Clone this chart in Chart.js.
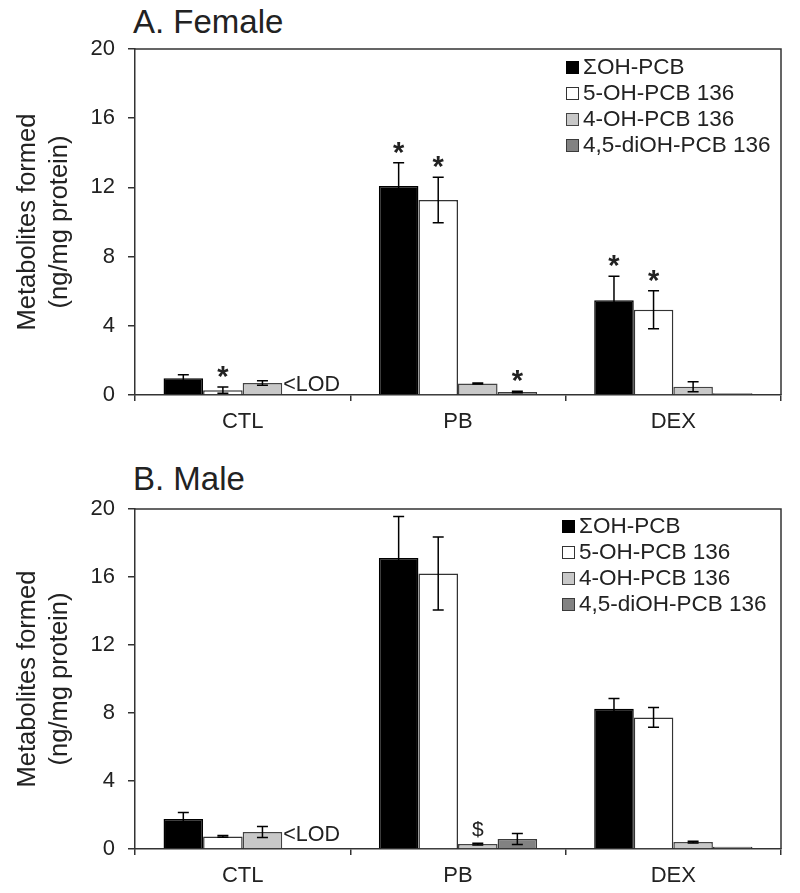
<!DOCTYPE html>
<html>
<head>
<meta charset="utf-8">
<script src="https://cdn.jsdelivr.net/npm/chart.js@4.4.1/dist/chart.umd.min.js"></script>
<style>
  html, body { margin:0; padding:0; background:#fff; }
  #wrap { position:relative; width:800px; height:893px; overflow:hidden; font-family:"Liberation Sans", Arial, sans-serif; color:#222; }
  .ttl { position:absolute; font-size:33px; line-height:33px; white-space:nowrap; color:#222; }
  .cv { position:absolute; left:0; }
  .leg { position:absolute; font-size:22.5px; white-space:nowrap; color:#222; }
  .row { display:flex; align-items:center; height:26px; }
  .sw { width:11px; height:11px; border:1px solid #333; margin-right:4px; box-sizing:content-box; }
</style>
</head>
<body>
<div id="wrap">
  <div class="ttl" style="left:133px; top:5px;">A. Female</div>
  <div class="ttl" style="left:133px; top:462px;">B. Male</div>
  <canvas id="c1" class="cv" style="top:0px;" width="800" height="446"></canvas>
  <canvas id="c2" class="cv" style="top:446px;" width="800" height="447"></canvas>
  <div id="leg1" class="leg" style="left:566px; top:54px;"></div>
  <div id="leg2" class="leg" style="left:562px; top:513px;"></div>
</div>
<script>
// ---------- data ----------
const categories = ['CTL', 'PB', 'DEX'];
const seriesNames = ['ΣOH-PCB', '5-OH-PCB 136', '4-OH-PCB 136', '4,5-diOH-PCB 136'];
const yTicks = [0, 4, 8, 12, 16, 20];

// A. Female
const femaleSum      = [0.97, 12.08, 5.47];
const femaleSumErr   = [0.20, 1.35, 1.39];
const femaleSumSig   = ['', '*', '*'];
const female5OH      = [0.28, 11.27, 4.93];
const female5OHErr   = [0.18, 1.31, 1.10];
const female5OHSig   = ['*', '*', '*'];
const female4OH      = [0.69, 0.67, 0.48];
const female4OHErr   = [0.13, 0.03, 0.29];
const female4OHSig   = ['', '', ''];
const femaleDiOH     = [0, 0.17, 0.10];
const femaleDiOHErr  = [0, 0.04, 0];
const femaleDiOHSig  = ['', '*', ''];
const femaleLOD      = ['<LOD', '', ''];

// B. Male
const maleSum        = [1.76, 17.12, 8.25];
const maleSumErr     = [0.39, 2.44, 0.60];
const maleSumSig     = ['', '', ''];
const male5OH        = [0.74, 16.21, 7.74];
const male5OHErr     = [0.05, 2.15, 0.58];
const male5OHSig     = ['', '', ''];
const male4OH        = [1.00, 0.29, 0.41];
const male4OHErr     = [0.33, 0.05, 0.05];
const male4OHSig     = ['', '$', ''];
const maleDiOH       = [0, 0.59, 0.13];
const maleDiOHErr    = [0, 0.32, 0];
const maleDiOHSig    = ['', '', ''];
const maleLOD        = ['<LOD', '', ''];

// ---------- styles ----------
const FONT = '"Liberation Sans", Arial, sans-serif';
const fills   = ['#000000', '#ffffff', '#c8c8c8', '#828282'];
const borders = ['#000000', '#333333', '#444444', '#3a3a3a'];

function buildLegend(id) {
  const el = document.getElementById(id);
  seriesNames.forEach((n, i) => {
    const r = document.createElement('div');
    r.className = 'row';
    const s = document.createElement('div');
    s.className = 'sw';
    s.style.background = fills[i];
    s.style.borderColor = borders[i];
    const t = document.createElement('span');
    t.textContent = n;
    r.appendChild(s); r.appendChild(t);
    el.appendChild(r);
  });
}
buildLegend('leg1');
buildLegend('leg2');

const framePlugin = {
  id: 'frame',
  afterDraw(chart) {
    const {ctx, chartArea: a} = chart;
    ctx.save();
    ctx.strokeStyle = '#333';
    ctx.lineWidth = 1.5;
    ctx.beginPath();
    ctx.moveTo(a.left, a.top);
    ctx.lineTo(a.right, a.top);
    ctx.lineTo(a.right, a.bottom);
    ctx.stroke();
    ctx.restore();
  }
};

const errPlugin = {
  id: 'errs',
  afterDatasetsDraw(chart) {
    const {ctx} = chart;
    const ys = chart.scales.y;
    ctx.save();
    chart.data.datasets.forEach((ds, i) => {
      const meta = chart.getDatasetMeta(i);
      meta.data.forEach((bar, j) => {
        const v = ds.data[j];
        const e = ds.errs[j] || 0;
        const x = bar.x;
        if (e > 0) {
          const yt = ys.getPixelForValue(v + e);
          const yb = ys.getPixelForValue(v - e);
          ctx.strokeStyle = '#000';
          ctx.lineWidth = 1.5;
          ctx.beginPath();
          ctx.moveTo(x, yt); ctx.lineTo(x, yb);
          ctx.moveTo(x - 5.5, yt); ctx.lineTo(x + 5.5, yt);
          ctx.moveTo(x - 5.5, yb); ctx.lineTo(x + 5.5, yb);
          ctx.stroke();
        }
        const s = ds.sig[j];
        if (s) {
          const yt = ys.getPixelForValue(v + e);
          ctx.fillStyle = '#222';
          ctx.textAlign = 'center';
          ctx.textBaseline = 'middle';
          if (s === '*') {
            ctx.font = 'bold 29px ' + FONT;
            ctx.fillText(s, x, yt - 9);
          } else {
            ctx.font = '21px ' + FONT;
            ctx.fillText(s, x, yt - 13);
          }
        }
        const l = ds.lod ? ds.lod[j] : '';
        if (l) {
          const left = x - bar.width / 2;
          ctx.fillStyle = '#222';
          ctx.textAlign = 'left';
          ctx.textBaseline = 'alphabetic';
          ctx.font = '21.5px ' + FONT;
          ctx.fillText(l, left + 1, ys.getPixelForValue(ds.lodY));
        }
      });
    });
    ctx.restore();
  }
};

function makeChart(id, series, errs, sigs, lod, lodY, padTop, xh) {
  const datasets = series.map((d, i) => ({
    label: seriesNames[i],
    data: d,
    errs: errs[i],
    sig: sigs[i],
    lod: i === 3 ? lod : null,
    lodY: lodY,
    backgroundColor: fills[i],
    borderColor: borders[i],
    borderWidth: 1.5,
    borderSkipped: 'bottom'
  }));
  return new Chart(document.getElementById(id), {
    type: 'bar',
    data: { labels: categories, datasets },
    options: {
      responsive: false,
      animation: false,
      devicePixelRatio: 1,
      layout: { padding: { top: padTop, right: 19, left: 0, bottom: 0 } },
      plugins: { legend: { display: false }, tooltip: { enabled: false }, title: { display: false } },
      datasets: { bar: { barPercentage: 1, categoryPercentage: 0.735 } },
      scales: {
        x: {
          grid: { display: true, drawOnChartArea: false, drawTicks: true, tickLength: 6, color: '#333', lineWidth: 1.5, offset: true },
          border: { display: true, color: '#333', width: 1.5 },
          ticks: { font: { size: 22, family: FONT }, color: '#222', padding: 8 },
          afterFit(s) { s.height = xh; }
        },
        y: {
          min: 0, max: 20,
          afterBuildTicks(s) { s.ticks = yTicks.map(v => ({ value: v })); },
          ticks: { font: { size: 22, family: FONT }, color: '#222', padding: 13 },
          grid: { display: true, drawOnChartArea: false, drawTicks: true, tickLength: 7, color: '#333', lineWidth: 1.5 },
          border: { display: true, color: '#333', width: 1.5 },
          title: {
            display: true,
            text: ['Metabolites formed', '(ng/mg protein)'],
            font: { size: 25.5, family: FONT, lineHeight: 1.26 },
            color: '#222',
            padding: { top: 12, bottom: 0 }
          },
          afterFit(s) { s.width = 135; }
        }
      }
    },
    plugins: [framePlugin, errPlugin]
  });
}

makeChart('c1',
  [femaleSum, female5OH, female4OH, femaleDiOH],
  [femaleSumErr, female5OHErr, female4OHErr, femaleDiOHErr],
  [femaleSumSig, female5OHSig, female4OHSig, femaleDiOHSig],
  femaleLOD, 0.23, 49, 51);

makeChart('c2',
  [maleSum, male5OH, male4OH, maleDiOH],
  [maleSumErr, male5OHErr, male4OHErr, maleDiOHErr],
  [maleSumSig, male5OHSig, male4OHSig, maleDiOHSig],
  maleLOD, 0.45, 63, 44);
</script>
</body>
</html>
